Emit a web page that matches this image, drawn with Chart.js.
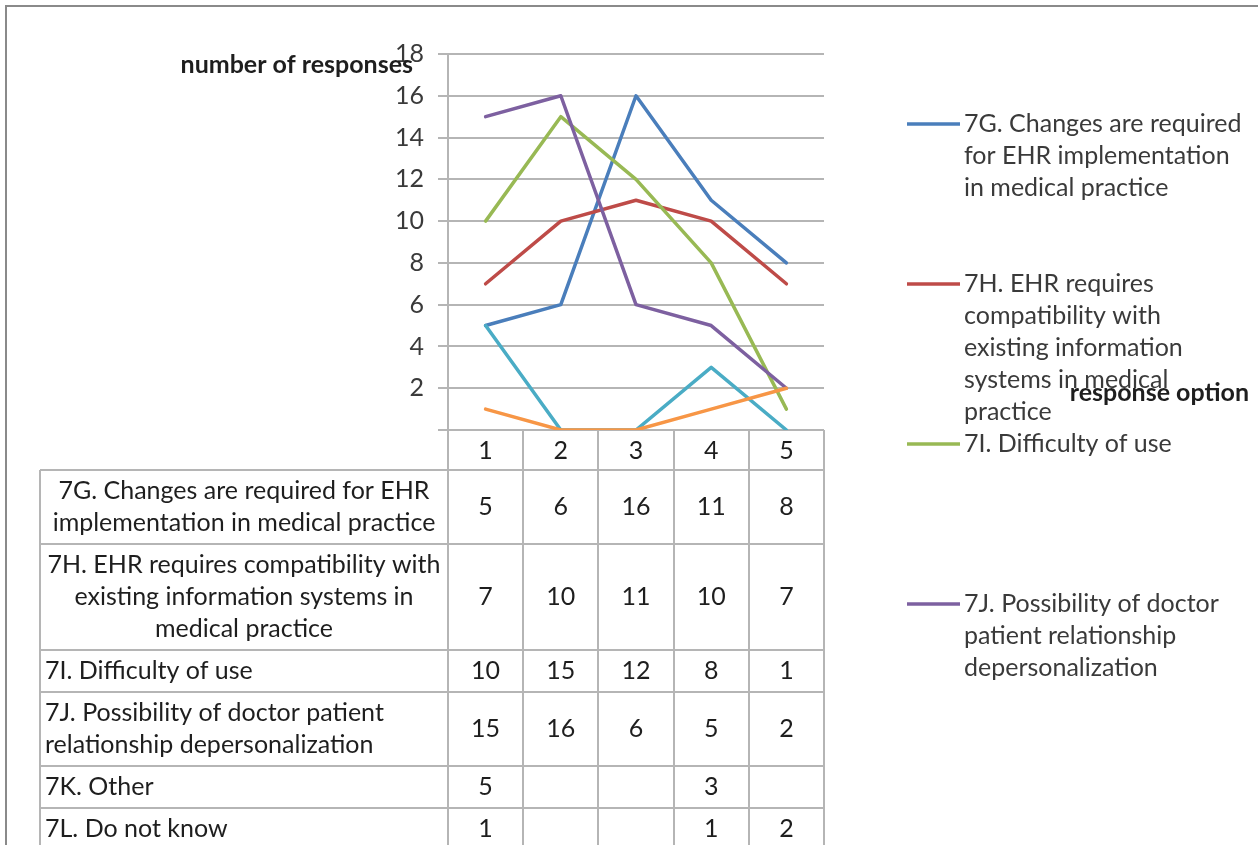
<!DOCTYPE html>
<html>
<head>
<meta charset="utf-8">
<title>EHR implementation barriers by response option</title>
<script src="https://cdn.jsdelivr.net/npm/chart.js@4.4.1/dist/chart.umd.min.js"></script>
<style>
  html, body { margin: 0; padding: 0; background: #ffffff; }
  #wrap { position: relative; width: 1258px; height: 845px; overflow: hidden; }
  #frame { position: absolute; left: 5px; top: 5px; width: 1400px; height: 1000px;
           border-top: 2px solid #8a8a8a; border-left: 2px solid #8a8a8a; pointer-events: none; }
  canvas { position: absolute; left: 0; top: 0; }
</style>
</head>
<body>
<div id="wrap">
  <canvas id="chart" width="1258" height="845"></canvas>
  <div id="frame"></div>
</div>
<script>
// Response options (x categories)
const categories = ['1', '2', '3', '4', '5'];

// Series names
const seriesNames = [
  '7G. Changes are required for EHR implementation in medical practice',
  '7H. EHR requires compatibility with existing information systems in medical practice',
  '7I. Difficulty of use',
  '7J. Possibility of doctor patient relationship depersonalization',
  '7K. Other',
  '7L. Do not know'
];

// Number of responses per option (null = empty cell)
const values7G = [5, 6, 16, 11, 8];
const values7H = [7, 10, 11, 10, 7];
const values7I = [10, 15, 12, 8, 1];
const values7J = [15, 16, 6, 5, 2];
const values7K = [5, null, null, 3, null];
const values7L = [1, null, null, 1, 2];

// Value axis
const yMin = 0;
const yMax = 18;
const yStep = 2;

const yAxisTitle = 'number of responses';
const xAxisTitle = 'response option';

const seriesValues = [values7G, values7H, values7I, values7J, values7K, values7L];
const seriesColors = ['#4a7ebb', '#be4b48', '#98b954', '#7d60a0', '#4aacc5', '#f79646'];
const legendEntries = 4;

const FONT = 'Lato, "Open Sans", sans-serif';
const FONT_SIZE = 25;
const TEXT_DARK = '#1e1e1e';
const TEXT_GREY = '#3a3a3a';
const GRID = '#b5b5b5';

// Word-wrap helper for canvas text
function wrapText(ctx, text, maxWidth) {
  const words = text.split(' ');
  const lines = [];
  let line = '';
  for (const w of words) {
    const test = line ? line + ' ' + w : w;
    if (line && ctx.measureText(test).width > maxWidth) {
      lines.push(line);
      line = w;
    } else {
      line = test;
    }
  }
  if (line) lines.push(line);
  return lines;
}

// Data table under the plot, legend on the right and axis titles
const extrasPlugin = {
  id: 'extras',
  afterDraw(chart) {
    const ctx = chart.ctx;
    const area = chart.chartArea;
    const xs = chart.scales.x;
    const n = categories.length;
    const band = (area.right - area.left) / n;
    const tableLeft = 40;
    const lineH = 32;
    const rowPad = 10;
    const labelAlign = ['center', 'center', 'left', 'left', 'left', 'left'];

    ctx.save();
    ctx.font = FONT_SIZE + 'px ' + FONT;
    ctx.textBaseline = 'middle';

    // rows
    let y = xs.bottom;
    const rows = seriesNames.map((name, i) => {
      const lines = wrapText(ctx, name, 396);
      const h = lines.length * lineH + rowPad;
      const r = { top: y, h, lines, i };
      y += h;
      return r;
    });
    const tableBottom = y;

    ctx.strokeStyle = GRID;
    ctx.lineWidth = 2;
    // vertical lines of the value columns
    for (let k = 0; k <= n; k++) {
      const x = Math.round(area.left + k * band);
      ctx.beginPath();
      ctx.moveTo(x, area.bottom);
      ctx.lineTo(x, tableBottom);
      ctx.stroke();
    }
    // left border of the label column
    ctx.beginPath();
    ctx.moveTo(tableLeft, xs.bottom);
    ctx.lineTo(tableLeft, tableBottom);
    ctx.stroke();
    // horizontal row lines
    rows.forEach(r => {
      ctx.beginPath();
      ctx.moveTo(tableLeft, r.top);
      ctx.lineTo(area.right, r.top);
      ctx.stroke();
    });
    ctx.beginPath();
    ctx.moveTo(tableLeft, tableBottom);
    ctx.lineTo(area.right, tableBottom);
    ctx.stroke();

    // row labels and values
    ctx.fillStyle = TEXT_DARK;
    rows.forEach(r => {
      const mid = r.top + r.h / 2;
      const first = mid - (r.lines.length - 1) * lineH / 2;
      r.lines.forEach((ln, j) => {
        if (labelAlign[r.i] === 'center') {
          ctx.textAlign = 'center';
          ctx.fillText(ln, (tableLeft + area.left) / 2, first + j * lineH);
        } else {
          ctx.textAlign = 'left';
          ctx.fillText(ln, tableLeft + 5, first + j * lineH);
        }
      });
      ctx.textAlign = 'center';
      seriesValues[r.i].forEach((v, k) => {
        if (v !== null) ctx.fillText(String(v), xs.getPixelForValue(k), mid);
      });
    });

    // legend
    const legX = 907, legLine = 53, legTop = 124, legGap = 160;
    ctx.textAlign = 'left';
    ctx.fillStyle = TEXT_GREY;
    for (let i = 0; i < legendEntries; i++) {
      const ly = legTop + i * legGap;
      ctx.strokeStyle = seriesColors[i];
      ctx.lineWidth = 3.5;
      ctx.beginPath();
      ctx.moveTo(legX, ly);
      ctx.lineTo(legX + legLine, ly);
      ctx.stroke();
      const lines = wrapText(ctx, seriesNames[i], 281);
      lines.forEach((ln, j) => ctx.fillText(ln, legX + legLine + 4, ly + j * lineH));
    }

    // axis titles
    ctx.font = 'bold ' + FONT_SIZE + 'px ' + FONT;
    ctx.fillStyle = TEXT_DARK;
    ctx.textAlign = 'right';
    ctx.fillText(yAxisTitle, 413, area.top + 11);
    ctx.fillText(xAxisTitle, 1249, 393);
    ctx.restore();
  }
};

const datasets = seriesNames.map((name, i) => ({
  label: name,
  // empty cells are plotted as zero
  data: seriesValues[i].map(v => (v === null ? 0 : v)),
  borderColor: seriesColors[i],
  backgroundColor: seriesColors[i],
  borderWidth: 3.5,
  pointRadius: 0,
  pointHoverRadius: 0,
  tension: 0,
  fill: false,
  borderJoinStyle: 'round',
  borderCapStyle: 'round',
  order: seriesNames.length - i
}));

new Chart(document.getElementById('chart'), {
  type: 'line',
  data: { labels: categories, datasets },
  options: {
    responsive: false,
    animation: false,
    events: [],
    layout: { padding: { left: 0, top: 54, right: 434, bottom: 375 } },
    plugins: {
      legend: { display: false },
      tooltip: { enabled: false },
      title: { display: false }
    },
    scales: {
      x: {
        type: 'category',
        offset: true,
        afterFit(scale) { scale.height = 40; },
        grid: { display: true, drawOnChartArea: false, drawTicks: false, color: 'rgba(0,0,0,0)' },
        border: { display: false },
        ticks: { color: TEXT_DARK, font: { family: FONT, size: FONT_SIZE }, padding: 6, maxRotation: 0 }
      },
      y: {
        min: yMin,
        max: yMax,
        afterFit(scale) { scale.width = 448; },
        grid: { color: GRID, lineWidth: 2, tickLength: 10, drawTicks: true },
        border: { display: true, color: GRID, width: 2 },
        ticks: {
          stepSize: yStep,
          padding: 14,
          color: TEXT_GREY,
          font: { family: FONT, size: FONT_SIZE },
          callback: v => (v === 0 ? '' : v)
        }
      }
    }
  },
  plugins: [extrasPlugin]
});
</script>
</body>
</html>
